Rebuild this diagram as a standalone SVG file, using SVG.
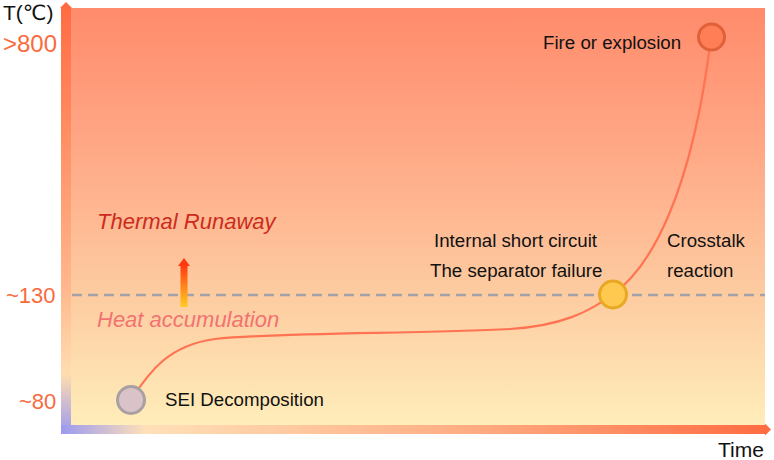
<svg xmlns="http://www.w3.org/2000/svg" width="774" height="460" viewBox="0 0 774 460">
<defs>
<linearGradient id="bg" x1="0" y1="0" x2="0" y2="1">
<stop offset="0" stop-color="#FF8B6B"/>
<stop offset="0.35" stop-color="#FFA987"/>
<stop offset="0.68" stop-color="#FDCBA0"/>
<stop offset="1" stop-color="#FFEDBA"/>
</linearGradient>
<linearGradient id="yax" x1="0" y1="0" x2="0" y2="1">
<stop offset="0" stop-color="#FF6C42"/>
<stop offset="0.65" stop-color="#FFB68C"/>
<stop offset="0.86" stop-color="#FFDDB0"/>
<stop offset="1" stop-color="#9A9AF0"/>
</linearGradient>
<linearGradient id="xax" x1="0" y1="0" x2="1" y2="0">
<stop offset="0" stop-color="#9A9AF0"/>
<stop offset="0.12" stop-color="#FFE0B8"/>
<stop offset="0.6" stop-color="#FFAA80"/>
<stop offset="1" stop-color="#FF6C42"/>
</linearGradient>
<linearGradient id="up" x1="0" y1="1" x2="0" y2="0">
<stop offset="0" stop-color="#FFCC22"/>
<stop offset="1" stop-color="#FF3A10"/>
</linearGradient>
<style>
.lbl{font-family:"Liberation Sans",Arial,sans-serif;font-size:18.7px;fill:#111}
.ax{font-family:"Liberation Sans",Arial,sans-serif;fill:#F96B3E}
.it{font-family:"Liberation Sans",Arial,sans-serif;font-size:22px;font-style:italic}
.curve{fill:none;stroke:#FF7352;stroke-width:2.2}
</style>
</defs>
<rect x="70" y="8" width="695" height="417" fill="url(#bg)"/>
<g id="axes">
<rect x="61" y="7" width="10" height="427" fill="url(#yax)"/>
<polygon points="60,8 66,2 72,8" fill="#FF6C42"/>
<rect x="61" y="425" width="705" height="9" fill="url(#xax)"/>
<polygon points="765,423.5 771,429.5 765,435.5" fill="#FF6C42"/>
<text x="3" y="20" font-family="Liberation Sans,DejaVu Sans,sans-serif" font-size="21" fill="#111">T(℃)</text>
<text class="ax" x="3" y="52" font-size="24">&gt;800</text>
<text class="ax" x="6" y="303" font-size="22">~130</text>
<text class="ax" x="19" y="409" font-size="22">~80</text>
<text x="718" y="457" font-family="Liberation Sans,Arial,sans-serif" font-size="21" fill="#111">Time</text>
</g>
<line x1="72" y1="295" x2="765" y2="295" stroke="#A2A2A8" stroke-width="2.5" stroke-dasharray="10 6"/>
<g id="connectors">
<path class="curve" d="M131,400 C150,370 170,345 215,339 C280,332 420,334 510,329 C560,326 590,312 613,294 C650,268 692,195 711,37"/>
</g>
<g id="heat-arrow">
<rect x="180.5" y="265" width="7" height="42" fill="url(#up)"/>
<polygon points="178,266 184,258 190,266" fill="#FF3A10"/>
</g>
<text class="it" x="97" y="229" fill="#CC2B1C">Thermal Runaway</text>
<text class="it" x="97" y="327" fill="#F27272">Heat accumulation</text>
<g id="sei">
<circle cx="131" cy="400" r="13.5" fill="#D9C3C8" stroke="#A9A1A1" stroke-width="3"/>
<text class="lbl" x="165" y="406">SEI Decomposition</text>
</g>
<g id="separator">
<circle cx="613" cy="294.5" r="13.5" fill="#FFC94F" stroke="#E8A822" stroke-width="3"/>
<text class="lbl" x="434" y="247">Internal short circuit</text>
<text class="lbl" x="430" y="277">The separator failure</text>
</g>
<g id="crosstalk">
<text class="lbl" x="667" y="247">Crosstalk</text>
<text class="lbl" x="667" y="277">reaction</text>
</g>
<g id="fire">
<circle cx="711.5" cy="37" r="13" fill="#FF7E55" stroke="#E0603A" stroke-width="3"/>
<text class="lbl" x="543" y="49">Fire or explosion</text>
</g>
</svg>
